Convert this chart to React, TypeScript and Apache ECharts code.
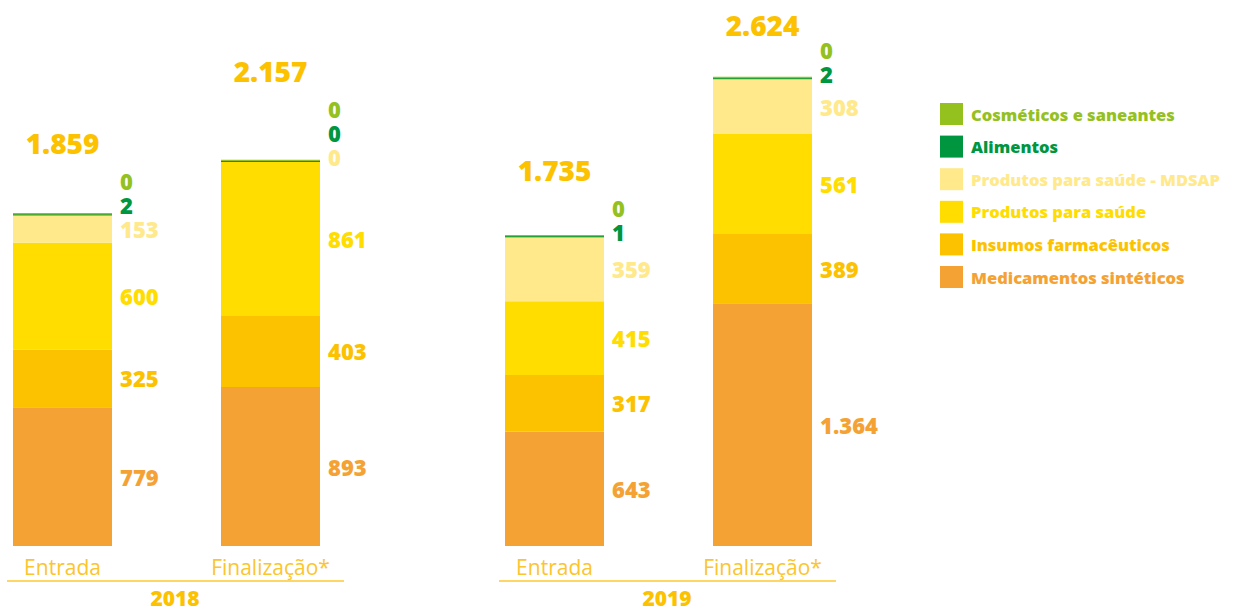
import React, { useEffect, useRef } from "react";
import * as echarts from "echarts";

const categories = ["Entrada", "Finalização*"];
const years = ["2018", "2019"];

const seriesNames = [
  "Medicamentos sintéticos",
  "Insumos farmacêuticos",
  "Produtos para saúde",
  "Produtos para saúde - MDSAP",
  "Alimentos",
  "Cosméticos e saneantes",
];

// values per year: [Entrada, Finalização*]
const medicamentos2018 = [779, 893];
const insumos2018 = [325, 403];
const produtos2018 = [600, 861];
const mdsap2018 = [153, 0];
const alimentos2018 = [2, 0];
const cosmeticos2018 = [0, 0];

const medicamentos2019 = [643, 1364];
const insumos2019 = [317, 389];
const produtos2019 = [415, 561];
const mdsap2019 = [359, 308];
const alimentos2019 = [1, 2];
const cosmeticos2019 = [0, 0];

const yearData = [
  [medicamentos2018, insumos2018, produtos2018, mdsap2018, alimentos2018, cosmeticos2018],
  [medicamentos2019, insumos2019, produtos2019, mdsap2019, alimentos2019, cosmeticos2019],
];

const colors = ["#f5a234", "#fcc200", "#ffdd00", "#ffe98b", "#00963f", "#95c11f"];
const minHeights = [0, 0, 0, 0, 1, 2.2];
const zs = [2, 2, 2, 2, 4, 3];

const W = 1234;
const H = 612;
const GRID_TOP = 12;
const GRID_BOTTOM = 66;
const Y_MAX = 3000;
const FONT = "'Open Sans', 'Noto Sans', sans-serif";

const fmt = (v: number) => {
  const s = String(Math.round(v));
  return s.replace(/\B(?=(\d{3})+(?!\d))/g, ".");
};

export default function App() {
  const ref = useRef<HTMLDivElement>(null);
  useEffect(() => {
    if (!ref.current) return;
    const chart = echarts.init(ref.current, null, { renderer: "svg" });
    const gridH = H - GRID_TOP - GRID_BOTTOM;
    const k = gridH / Y_MAX;
    const base = H - GRID_BOTTOM;

    const series: any[] = [];
    yearData.forEach((segs, g) => {
      const offsets: number[][] = segs.map(() => [0, 0]);
      const totalOffsets: number[] = [0, 0];
      categories.forEach((_, ci) => {
        let cum = 0;
        let prevY = Infinity;
        segs.forEach((arr, si) => {
          const v = arr[ci];
          const bottomPx = base - cum * k;
          const hPx = v * k;
          const topPx = bottomPx - hPx;
          const desired = hPx < 10 ? topPx - 5 : bottomPx - hPx / 2;
          const y = Math.min(desired, prevY - 24);
          const rectH = Math.max(hPx, minHeights[si]);
          const center = bottomPx - rectH / 2;
          offsets[si][ci] = y - center;
          prevY = y;
          cum += v;
        });
        const totalY = Math.max(prevY - 38, 25);
        totalOffsets[ci] = totalY - (base - cum * k);
      });

      segs.forEach((arr, si) => {
        series.push({
          name: seriesNames[si],
          type: "bar",
          stack: "s" + g,
          xAxisIndex: g,
          yAxisIndex: g,
          barWidth: 99,
          barMinHeight: minHeights[si],
          z: zs[si],
          itemStyle: { color: colors[si] },
          data: arr.map((v, ci) => ({
            value: v,
            label: {
              show: true,
              position: "right",
              distance: 8,
              offset: [0, offsets[si][ci]],
            },
          })),
          label: {
            show: true,
            color: colors[si],
            fontFamily: FONT,
            fontWeight: 800,
            fontSize: 22,
            lineHeight: 22,
            formatter: (p: any) => fmt(p.value),
          },
          emphasis: { disabled: true },
        });
      });
      const totals = categories.map((_, ci) => segs.reduce((a, arr) => a + arr[ci], 0));
      series.push({
        name: "total" + g,
        type: "bar",
        stack: "s" + g,
        xAxisIndex: g,
        yAxisIndex: g,
        barWidth: 99,
        silent: true,
        itemStyle: { color: "transparent" },
        data: totals.map((t, ci) => ({
          value: 0,
          label: {
            show: true,
            position: "inside",
            offset: [0, totalOffsets[ci]],
            formatter: () => fmt(t),
          },
        })),
        label: {
          show: true,
          color: "#fcc200",
          fontFamily: FONT,
          fontWeight: 800,
          fontSize: 28,
          lineHeight: 28,
        },
        emphasis: { disabled: true },
      });
    });

    const gridLefts = [62.5, 554.5];
    const xAxis = gridLefts.map((_, g) => ({
      type: "category",
      gridIndex: g,
      data: categories,
      boundaryGap: false,
      axisLine: { show: false },
      axisTick: { show: false },
      splitLine: { show: false },
      axisLabel: {
        color: "#fcc52e",
        fontFamily: FONT,
        fontWeight: 400,
        fontSize: 21,
        margin: 10,
      },
    }));
    const yAxis = gridLefts.map((_, g) => ({
      type: "value",
      gridIndex: g,
      min: 0,
      max: Y_MAX,
      show: false,
      splitLine: { show: false },
    }));

    const lineColor = "#fcc831";
    chart.setOption({
      animation: false,
      grid: gridLefts.map((l) => ({
        left: l,
        width: 208,
        top: GRID_TOP,
        bottom: GRID_BOTTOM,
        containLabel: false,
      })),
      xAxis,
      yAxis,
      legend: {
        orient: "vertical",
        left: 940,
        top: 103,
        itemWidth: 23,
        itemHeight: 22,
        itemGap: 10.6,
        icon: "rect",
        padding: 0,
        selectedMode: false,
        data: [...seriesNames].reverse().map((n) => ({
          name: n,
          textStyle: { color: colors[seriesNames.indexOf(n)] },
        })),
        textStyle: {
          fontFamily: FONT,
          fontWeight: 800,
          fontSize: 16.5,
          padding: [0, 0, 0, 3],
        },
      },
      graphic: [
        { type: "line", shape: { x1: 7, y1: 581, x2: 344, y2: 581 }, style: { stroke: lineColor, lineWidth: 1.5 } },
        { type: "line", shape: { x1: 499, y1: 581, x2: 836, y2: 581 }, style: { stroke: lineColor, lineWidth: 1.5 } },
        {
          type: "text",
          x: 175,
          y: 598,
          style: {
            text: years[0],
            fill: "#fcc200",
            font: `800 21px ${FONT}`,
            textAlign: "center",
            textVerticalAlign: "middle",
          },
        },
        {
          type: "text",
          x: 667,
          y: 598,
          style: {
            text: years[1],
            fill: "#fcc200",
            font: `800 21px ${FONT}`,
            textAlign: "center",
            textVerticalAlign: "middle",
          },
        },
      ],
      series,
    });
    return () => chart.dispose();
  }, []);
  return (
    <div
      ref={ref}
      style={{ position: "fixed", left: 0, top: 0, width: W, height: H, background: "#fff" }}
    />
  );
}
